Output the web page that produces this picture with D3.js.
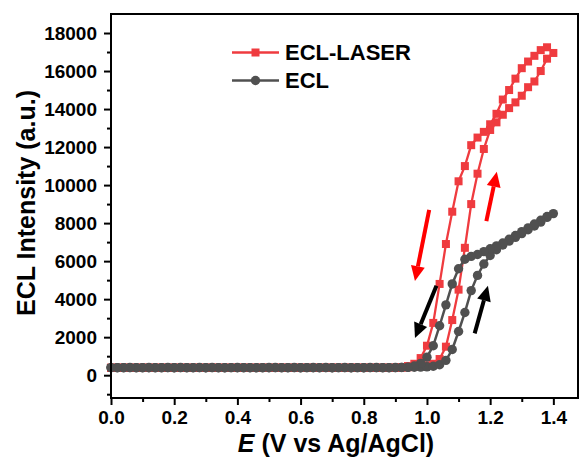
<!DOCTYPE html>
<html><head><meta charset="utf-8">
<script src="https://cdn.jsdelivr.net/npm/d3@7"></script>
<style>
html,body{margin:0;padding:0;background:#fff;}
svg{display:block;}
text{font-family:"Liberation Sans",Arial,sans-serif;font-weight:bold;fill:#000;}
</style></head>
<body><svg id="chart" width="580" height="466"></svg>
<script>
// ---- data ----
const seriesNames = ["ECL-LASER", "ECL"];
const eForward = [0.00,0.02,0.04,0.06,0.08,0.10,0.12,0.14,0.16,0.18,
  0.20,0.22,0.24,0.26,0.28,0.30,0.32,0.34,0.36,0.38,
  0.40,0.42,0.44,0.46,0.48,0.50,0.52,0.54,0.56,0.58,
  0.60,0.62,0.64,0.66,0.68,0.70,0.72,0.74,0.76,0.78,
  0.80,0.82,0.84,0.86,0.88,0.90,0.92,0.94,0.96,0.98,
  1.00,1.02,1.04,1.06,1.08,1.10,1.12,1.14,1.16,1.18,
  1.20,1.22,1.24,1.26,1.28,1.30,1.32,1.34,1.36,1.38,1.40];
const eReverse = [1.38,1.36,1.34,1.32,1.30,1.28,1.26,1.24,1.22,1.20,
  1.18,1.16,1.14,1.12,1.10,1.08,1.06,1.04,1.02,1.00,
  0.98,0.96,0.94,0.92,0.90,0.88,0.86,0.84,0.82,0.80,
  0.78,0.76,0.74,0.72,0.70,0.68,0.66,0.64,0.62,0.60,
  0.58,0.56,0.54,0.52,0.50,0.48,0.46,0.44,0.42,0.40,
  0.38,0.36,0.34,0.32,0.30,0.28,0.26,0.24,0.22,0.20,
  0.18,0.16,0.14,0.12,0.10,0.08,0.06,0.04,0.02,0.00];

const laserForward = [390,390,390,390,390,390,390,390,390,390,
  390,390,390,390,390,390,390,390,390,390,
  390,390,390,390,390,390,390,390,390,390,
  390,390,390,390,390,390,390,390,390,390,
  390,390,390,390,390,390,395,420,440,470,
  520,600,850,1500,2900,4500,6700,9000,10600,11900,
  12900,13300,13700,14050,14350,14700,15150,15450,16000,16650,16950];
const laserReverse = [17250,17100,16800,16500,16150,15600,15000,14500,13750,13200,
  12800,12500,12100,11000,10200,8600,6900,4800,2750,1550,
  900,600,480,420,395,390,390,390,390,390,
  390,390,390,390,390,390,390,390,390,390,
  390,390,390,390,390,390,390,390,390,390,
  390,390,390,390,390,390,390,390,390,390,
  390,390,390,390,390,390,390,390,390,390];
const eclForward = [400,395,400,405,395,400,395,390,400,405,
  395,400,395,400,405,395,400,395,390,400,
  405,395,400,395,400,395,405,400,395,400,
  395,400,405,395,400,395,400,405,395,400,
  395,400,405,400,395,400,405,410,415,425,
  440,470,550,780,1350,2300,3300,4450,5250,5850,
  6300,6600,6850,7050,7250,7450,7650,7850,8050,8300,8500];
const eclReverse = [8350,8150,7950,7750,7550,7350,7150,6950,6800,6650,
  6500,6350,6250,6100,5600,4800,3700,2600,1550,950,
  620,480,420,410,405,400,395,400,405,395,
  400,395,400,400,395,405,400,395,400,395,
  405,400,395,400,405,395,400,395,400,395,
  400,395,400,405,395,400,395,400,405,395,
  400,395,400,405,395,400,400,395,400,400];

const xTicks = [0.0,0.2,0.4,0.6,0.8,1.0,1.2,1.4];
const xMinorTicks = [0.1,0.3,0.5,0.7,0.9,1.1,1.3];
const yTicks = [0,2000,4000,6000,8000,10000,12000,14000,16000,18000];
const yMinorTicks = [-1000,1000,3000,5000,7000,9000,11000,13000,15000,17000];

// arrows: [E, I] start -> end (head at end)
const arrowStarts = [[1.007,8700],[1.188,8100],[1.030,4700],[1.151,2200]];
const arrowEnds   = [[0.962,4950],[1.221,10700],[0.962,1950],[1.193,4700]];
const arrowColors = ["#ff0000","#ff0000","#000000","#000000"];

// ---- layout ----
const svg = d3.select("#chart");
const L = 111, R = 578, T = 14, B = 398;
const x = d3.scaleLinear().domain([0, 1.478]).range([L, R]);
const y = d3.scaleLinear().domain([-1200, 19000]).range([B, T]);

const redC = "#ef3b3f", greyC = "#505050";

function pts(eF, vF, eR, vR) {
  return eF.map((e,i)=>[e,vF[i]]).concat(eR.map((e,i)=>[e,vR[i]]));
}
const laserPts = pts(eForward, laserForward, eReverse, laserReverse);
const eclPts = pts(eForward, eclForward, eReverse, eclReverse);

const plot = svg.append("g");
const line = d3.line().x(d=>x(d[0])).y(d=>y(d[1]));

// red series
plot.append("path").datum(laserPts).attr("d", line)
  .attr("fill","none").attr("stroke",redC).attr("stroke-width",2.3).attr("stroke-linejoin","round");
const sq = 8;
plot.append("g").selectAll("rect").data(laserPts).join("rect")
  .attr("x", d=>x(d[0])-sq/2).attr("y", d=>y(d[1])-sq/2)
  .attr("width", sq).attr("height", sq).attr("fill", redC);

// grey series
plot.append("path").datum(eclPts).attr("d", line)
  .attr("fill","none").attr("stroke",greyC).attr("stroke-width",2.5).attr("stroke-linejoin","round");
plot.append("g").selectAll("circle").data(eclPts).join("circle")
  .attr("cx", d=>x(d[0])).attr("cy", d=>y(d[1])).attr("r", 4.7).attr("fill", greyC);

// arrows
arrowStarts.forEach((s,i)=>{
  const e = arrowEnds[i];
  const x1=x(s[0]), y1=y(s[1]), x2=x(e[0]), y2=y(e[1]);
  const ang = Math.atan2(y2-y1, x2-x1);
  const hl = 15, hw = 7;
  const bx = x2 - hl*Math.cos(ang), by = y2 - hl*Math.sin(ang);
  plot.append("line").attr("x1",x1).attr("y1",y1).attr("x2",bx).attr("y2",by)
    .attr("stroke",arrowColors[i]).attr("stroke-width",4);
  const px = -Math.sin(ang), py = Math.cos(ang);
  plot.append("polygon")
    .attr("points", [[x2,y2],[bx+hw*px,by+hw*py],[bx-hw*px,by-hw*py]].map(p=>p.join(",")).join(" "))
    .attr("fill", arrowColors[i]);
});

// axes
const fmtX = d3.format(".1f");
const xAxis = svg.append("g").attr("transform",`translate(0,${B})`)
  .call(d3.axisBottom(x).tickValues(xTicks).tickFormat(fmtX).tickSize(7).tickSizeOuter(0).tickPadding(6));
const xMinor = svg.append("g").attr("transform",`translate(0,${B})`)
  .call(d3.axisBottom(x).tickValues(xMinorTicks).tickFormat("").tickSize(4).tickSizeOuter(0));
const yAxis = svg.append("g").attr("transform",`translate(${L},0)`)
  .call(d3.axisLeft(y).tickValues(yTicks).tickFormat(d3.format("d")).tickSize(7).tickSizeOuter(0).tickPadding(7));
const yMinor = svg.append("g").attr("transform",`translate(${L},0)`)
  .call(d3.axisLeft(y).tickValues(yMinorTicks).tickFormat("").tickSize(4).tickSizeOuter(0));
[xAxis,xMinor,yAxis,yMinor].forEach(g=>{
  g.select(".domain").remove();
  g.selectAll(".tick line").attr("stroke","#000").attr("stroke-width",2);
  g.selectAll(".tick text").style("font-size","19px").style("font-family","'Liberation Sans',Arial,sans-serif")
    .style("font-weight","bold").attr("fill","#000");
});
svg.append("rect").attr("x",L).attr("y",T).attr("width",R-L).attr("height",B-T)
  .attr("fill","none").attr("stroke","#000").attr("stroke-width",2);

// axis titles
const xt = svg.append("text").attr("x",336).attr("y",452).attr("text-anchor","middle").style("font-size","25px");
xt.append("tspan").style("font-style","italic").text("E");
xt.append("tspan").text(" (V vs Ag/AgCl)");
svg.append("text").attr("transform","translate(35,203) rotate(-90)").attr("text-anchor","middle")
  .style("font-size","25px").text("ECL Intensity (a.u.)");

// legend
const lg = svg.append("g");
const legY = [52.5, 80.5];
const legColors = [redC, greyC];
seriesNames.forEach((n,i)=>{
  lg.append("line").attr("x1",232).attr("x2",279).attr("y1",legY[i]).attr("y2",legY[i])
    .attr("stroke",legColors[i]).attr("stroke-width",2.5);
  if (i===0) lg.append("rect").attr("x",255.5-sq/2).attr("y",legY[i]-sq/2).attr("width",sq).attr("height",sq).attr("fill",redC);
  else lg.append("circle").attr("cx",255.5).attr("cy",legY[i]).attr("r",4.7).attr("fill",greyC);
  lg.append("text").attr("x",285).attr("y",legY[i]+7).style("font-size","22px").text(n);
});
</script></body></html>
